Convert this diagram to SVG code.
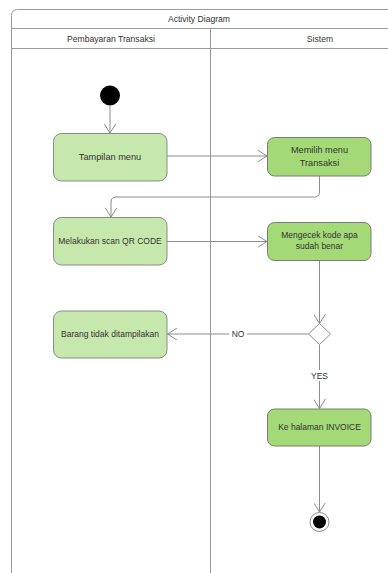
<svg xmlns="http://www.w3.org/2000/svg" width="388" height="573" viewBox="0 0 388 573">
<defs>
<style>
.frame{fill:none;stroke:#9a9a9a;stroke-width:1}
.hdr{font-family:"Liberation Sans",Arial,sans-serif;font-size:8.6px;fill:#333;text-anchor:middle}
.light{fill:#c7e8ac;stroke:#8a8a8a;stroke-width:1}
.dark{fill:#a3d977;stroke:#7a7a7a;stroke-width:1}
.lbl{font-family:"Liberation Sans",Arial,sans-serif;font-size:8.5px;fill:#333;text-anchor:middle}
.big{font-size:9.2px}
.edge{fill:none;stroke:#8c8c8c;stroke-width:1}
.elbl{font-family:"Liberation Sans",Arial,sans-serif;font-size:8.5px;fill:#333;text-anchor:middle}
</style>
<marker id="arr" viewBox="0 0 10 12" refX="9.5" refY="6" markerWidth="10" markerHeight="12" markerUnits="userSpaceOnUse" orient="auto">
<path d="M0,0 L9.5,6 L0,12" fill="none" stroke="#8c8c8c" stroke-width="1"/>
</marker>
</defs>
<rect width="388" height="573" fill="#ffffff"/>
<g id="frame">
<path class="frame" d="M11.5,573 L11.5,15.5 Q11.5,9.5 17.5,9.5 L388,9.5"/>
<line class="frame" x1="11.5" y1="28.5" x2="388" y2="28.5"/>
<line class="frame" x1="11.5" y1="48.5" x2="388" y2="48.5"/>
<line class="frame" x1="210.5" y1="28.5" x2="210.5" y2="573"/>
<text class="hdr" x="199" y="22">Activity Diagram</text>
<text class="hdr" x="111" y="41.5">Pembayaran Transaksi</text>
<text class="hdr" x="320" y="41.5">Sistem</text>
</g>
<g id="connectors">
<line class="edge" x1="110" y1="106" x2="110" y2="133" marker-end="url(#arr)"/>
<line class="edge" x1="167" y1="156" x2="267" y2="156" marker-end="url(#arr)"/>
<path class="edge" d="M319.5,176 L319.5,192 Q319.5,197 314.5,197 L116,197 Q111,197 111,202 L111,217" marker-end="url(#arr)"/>
<line class="edge" x1="167" y1="241.5" x2="267" y2="241.5" marker-end="url(#arr)"/>
<line class="edge" x1="319.5" y1="261" x2="319.5" y2="323.5" marker-end="url(#arr)"/>
<line class="edge" x1="308.5" y1="334" x2="167.5" y2="334" marker-end="url(#arr)"/>
<rect x="229" y="329" width="18" height="10" fill="#ffffff"/>
<text class="elbl" x="238" y="337">NO</text>
<line class="edge" x1="319.5" y1="345" x2="319.5" y2="408.5" marker-end="url(#arr)"/>
<rect x="309" y="370" width="21" height="11" fill="#ffffff"/>
<text class="elbl" x="319.5" y="379">YES</text>
<line class="edge" x1="319.5" y1="446" x2="319.5" y2="512" marker-end="url(#arr)"/>
</g>
<g id="start">
<circle cx="110" cy="95.5" r="10" fill="#000000"/>
</g>
<g id="tampilan">
<rect class="light" x="53.5" y="133.5" width="113.5" height="47.5" rx="8"/>
<text class="lbl big" x="110" y="160">Tampilan menu</text>
</g>
<g id="memilih">
<rect class="dark" x="267.5" y="137.5" width="103.5" height="38.5" rx="7"/>
<text class="lbl big" x="319.5" y="153">Memilih menu</text>
<text class="lbl big" x="319.5" y="166">Transaksi</text>
</g>
<g id="melakukan">
<rect class="light" x="53.5" y="217.5" width="113.5" height="47.5" rx="8"/>
<text class="lbl" x="110" y="244">Melakukan scan QR CODE</text>
</g>
<g id="mengecek">
<rect class="dark" x="267.5" y="222.5" width="103.5" height="38" rx="7"/>
<text class="lbl" x="319.5" y="238">Mengecek kode apa</text>
<text class="lbl" x="319.5" y="249">sudah benar</text>
</g>
<g id="decision">
<path d="M319.5,323.5 L330.5,334 L319.5,344.5 L308.5,334 Z" fill="#ffffff" stroke="#8c8c8c" stroke-width="1" stroke-linejoin="round"/>
</g>
<g id="barang">
<rect class="light" x="53.5" y="311" width="113.5" height="47" rx="8"/>
<text class="lbl" x="110" y="337">Barang tidak ditampilakan</text>
</g>
<g id="invoice">
<rect class="dark" x="267.5" y="409" width="103.5" height="37" rx="7"/>
<text class="lbl" x="319.5" y="430">Ke halaman INVOICE</text>
</g>
<g id="end">
<circle cx="319.5" cy="522" r="9.5" fill="#ffffff" stroke="#8c8c8c" stroke-width="1"/>
<circle cx="319.5" cy="522" r="6.5" fill="#000000"/>
</g>
</svg>
